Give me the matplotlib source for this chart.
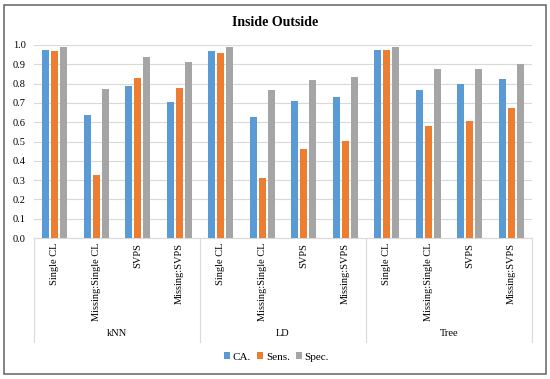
import matplotlib
matplotlib.use("Agg")
import matplotlib.pyplot as plt
import matplotlib.transforms as mtransforms
from matplotlib.patches import Rectangle, Patch
import numpy as np

groups = ["kNN", "LD", "Tree"]
methods = ["Single CL", "Missing:Single CL", "SVPS", "Missing:SVPS"]
series_names = ["CA.", "Sens.", "Spec."]
ca = [0.976, 0.635, 0.785, 0.707, 0.971, 0.628, 0.709, 0.731, 0.976, 0.768, 0.799, 0.824]
sens = [0.969, 0.325, 0.828, 0.778, 0.959, 0.313, 0.463, 0.504, 0.974, 0.580, 0.608, 0.675]
spec = [0.991, 0.774, 0.936, 0.912, 0.990, 0.769, 0.819, 0.836, 0.991, 0.876, 0.878, 0.900]
yticks = [0.0, 0.1, 0.2, 0.3, 0.4, 0.5, 0.6, 0.7, 0.8, 0.9, 1.0]

colors = ["#5B9BD5", "#ED7D31", "#A5A5A5"]
serif = ["Liberation Serif", "DejaVu Serif"]

fig = plt.figure(figsize=(5.5, 3.79), dpi=100)
ax = fig.add_axes([34/550, 1-238/379, (532-34)/550, (238-45)/379])

n = len(ca)
x = np.arange(n)
w = 0.17
off = 0.22
for i, (vals, c) in enumerate(zip([ca, sens, spec], colors)):
    ax.bar(x + (i-1)*off, vals, width=w, color=c, zorder=3)

ax.set_xlim(-0.5, n-0.5)
ax.set_ylim(0, 1.0)
ax.set_yticks(yticks)
ax.set_yticklabels([f"{v:.1f}" for v in yticks], fontsize=7.5, family=serif)
ax.yaxis.grid(True, color="#D9D9D9", linewidth=0.8, zorder=0)
ax.tick_params(axis="y", length=0, pad=6)
for s in ["top", "right", "left"]:
    ax.spines[s].set_visible(False)
ax.spines["bottom"].set_color("#D9D9D9")
ax.spines["bottom"].set_linewidth(0.8)

ax.set_xticks(x)
ax.set_xticklabels(methods * len(groups), rotation=90, fontsize=7.5, family=serif)
ax.tick_params(axis="x", length=0, pad=3.5)

trans = mtransforms.blended_transform_factory(ax.transData, fig.transFigure)
ybot = 1 - 342/379
ytop = 1 - 238/379
for b in [-0.5, 3.5, 7.5, 11.5]:
    ax.plot([b, b], [ytop, ybot], transform=trans, color="#D9D9D9", lw=0.8, clip_on=False)
for gi, g in enumerate(groups):
    ax.text(gi*4 + 1.5, 1 - 333/379, g, transform=trans, ha="center", va="center",
            fontsize=7.5, family=serif)

fig.text(0.5, 1 - 22/379, "Inside Outside", ha="center", va="center",
         fontsize=10, fontweight="bold", family=serif)

handles = [Patch(facecolor=c, edgecolor="none") for c in colors]
fig.legend(handles, series_names, loc="center", bbox_to_anchor=(0.503, 1 - 357/379),
           ncol=3, frameon=False, prop={"family": serif, "size": 8},
           handlelength=0.5, handleheight=0.5, handletextpad=0.25, columnspacing=0.6)

fig.add_artist(Rectangle((4/550, 5/379), 542/550, 369/379, transform=fig.transFigure,
                         fill=False, edgecolor="#6E6E6E", linewidth=1.2))

fig.savefig("out.png", dpi=100)
